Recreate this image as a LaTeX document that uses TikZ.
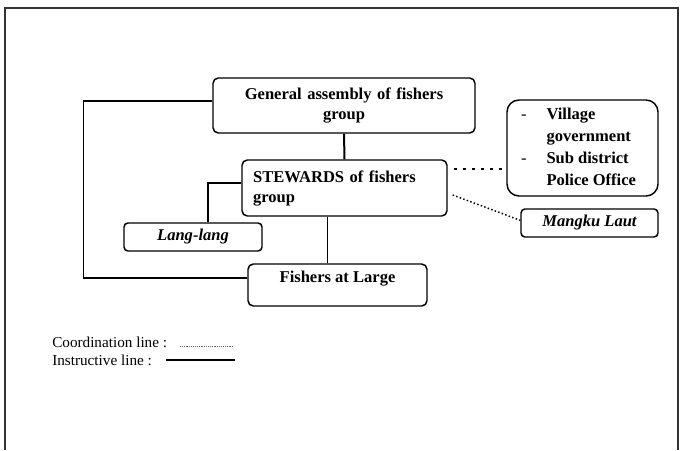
\documentclass[tikz,border=0pt]{standalone}
\usepackage{fontspec}
\setmainfont{Liberation Serif}

\begin{document}
\begin{tikzpicture}[x=0.75pt,y=-0.75pt,
		box/.style={draw,line width=1.1pt,rounded corners=4pt,inner sep=0pt,
			font=\fontsize{12.4}{15}\selectfont\bfseries},
		instr/.style={line width=0.8pt},
		coordthick/.style={line width=2.2pt,dash pattern=on 2.2pt off 4.6pt},
		coordthin/.style={line width=1.1pt,dash pattern=on 1.1pt off 1.7pt},
		legend/.style={anchor=west,inner sep=0pt,font=\fontsize{11.4}{13.5}\selectfont}]
		\useasboundingbox (0,0) rectangle (681,450);
		% frame
		\draw[line width=1.2pt,black!80] (5,450) -- (5,8) -- (678,8) -- (678,450);
		% boxes
		\node[box,minimum width=196.5pt,minimum height=41.25pt,text width=185pt,align=center]
		      (ga) at (344,105.5) {General assembly of fishers\\group};
		\node[box,minimum width=153.75pt,minimum height=42pt,text width=137pt,align=left]
		      (stew) at (344.5,188) {STEWARDS of fishers\\group};
		\node[box,rounded corners=3pt,minimum width=103.5pt,minimum height=21pt]
		      (lang) at (193,237) {\itshape Lang-lang};
		\node[box,minimum width=134.25pt,minimum height=31.5pt,text height=9pt,text depth=13pt]
		      (fish) at (337.5,285) {Fishers at Large};
		\node[box,rounded corners=9pt,minimum width=113.25pt,minimum height=72pt]
		      (village) at (582.5,148) {\renewcommand{\arraystretch}{1.1}%
		      \begin{tabular}{@{}l@{\hspace{15pt}}l@{\hspace{6pt}}}
		      {\mdseries -} & Village\\
		        & government\\
		      {\mdseries -} & Sub district\\
		        & Police Office
		      \end{tabular}};
		\node[box,rounded corners=3pt,minimum width=102.75pt,minimum height=21pt]
		      (mangku) at (589.5,223) {\itshape Mangku Laut};
		% instructive lines
		\draw[instr,line width=1.5pt] (ga.south) -- (stew.north);
		\draw[instr] ([yshift=3.4pt]ga.west) -- ++(-129,0) |- ([yshift=5.25pt]fish.west);
		\draw[instr] ([yshift=3.75pt]stew.west) -| ([xshift=11.25pt]lang.north);
		\draw[instr] ([xshift=-7.5pt]fish.north) -- ([xshift=-7.5pt]fish.north |- stew.south);
		% coordination lines
		\draw[coordthick] ([shift={(4.5pt,14.25pt)}]stew.east) -- ([shift={(-3pt,-15.75pt)}]village.west);
		\draw[coordthin] ([shift={(3.75pt,-5.25pt)}]stew.east) -- ([yshift=2pt]mangku.west);
		% legend
		\node[legend] (lcoord) at (52,342) {Coordination line :};
		\node[legend] (linstr) at (52,360) {Instructive line :};
		\coordinate (cdotA) at (180,346);
		\coordinate (cdotB) at (233,346);
		\coordinate (csolA) at (166,360);
		\coordinate (csolB) at (235,360);
		\draw[line width=0.5pt,black!60,dash pattern=on 0.5pt off 0.9pt] (cdotA) -- (cdotB);
		\draw[line width=1.1pt] (csolA) -- (csolB);
	\end{tikzpicture}
\end{document}
